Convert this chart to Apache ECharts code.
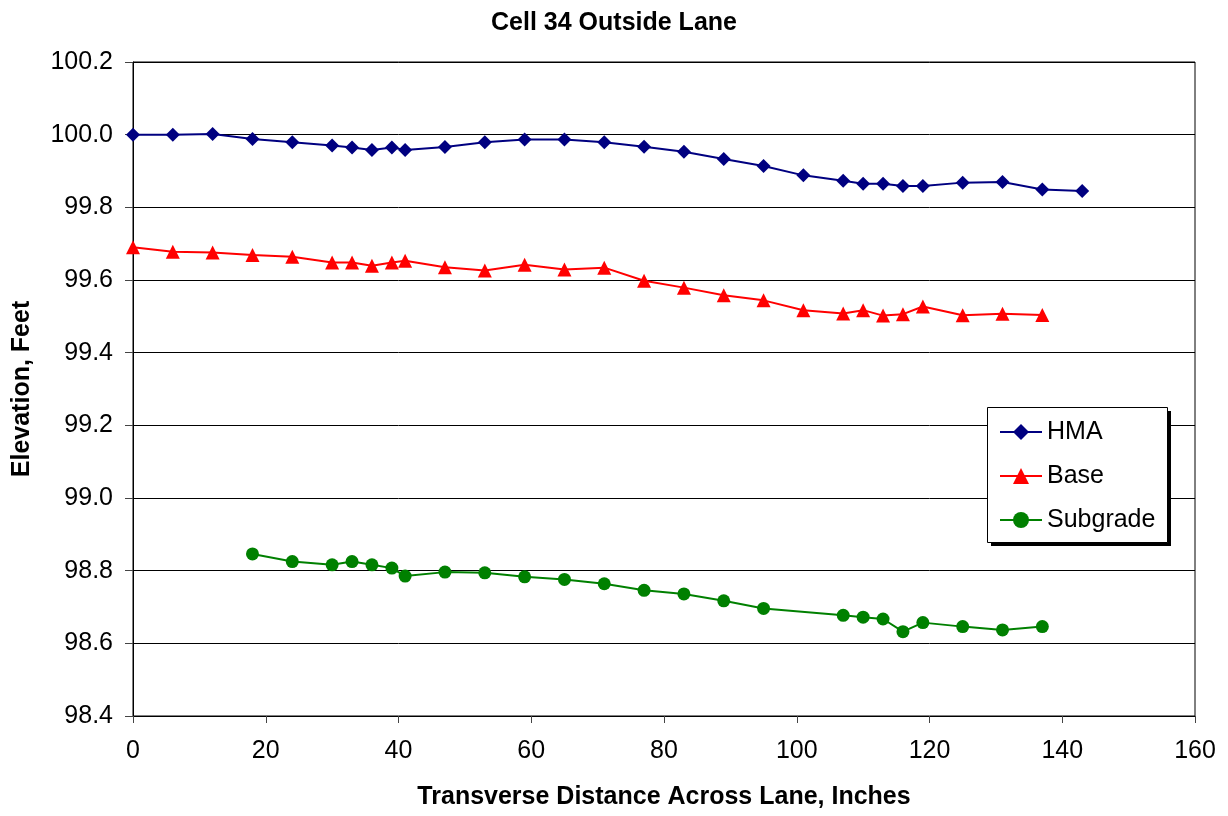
<!DOCTYPE html>
<html>
<head>
<meta charset="utf-8">
<script src="https://cdn.jsdelivr.net/npm/echarts@6/dist/echarts.min.js"></script>
<style>html,body{margin:0;padding:0;background:#fff}#c{width:1228px;height:816px}</style>
</head>
<body>
<div id="c"></div>
<script>
const hmaX = [0,6,12,18,24,30,33,36,39,41,47,53,59,65,71,77,83,89,95,101,107,110,113,116,119,125,131,137,143];
const hmaY = [100.000,100.000,100.002,99.988,99.979,99.970,99.965,99.958,99.965,99.958,99.966,99.979,99.987,99.987,99.979,99.967,99.953,99.933,99.914,99.888,99.873,99.865,99.865,99.859,99.859,99.868,99.870,99.849,99.845];
const baseX = [0,6,12,18,24,30,33,36,39,41,47,53,59,65,71,77,83,89,95,101,107,110,113,116,119,125,131,137];
const baseY = [99.690,99.678,99.676,99.669,99.664,99.648,99.648,99.639,99.648,99.653,99.635,99.626,99.642,99.629,99.634,99.598,99.579,99.558,99.544,99.517,99.508,99.517,99.502,99.506,99.527,99.503,99.507,99.504];
const subX = [18,24,30,33,36,39,41,47,53,59,65,71,77,83,89,95,107,110,113,116,119,125,131,137];
const subY = [98.846,98.825,98.816,98.825,98.816,98.807,98.785,98.796,98.794,98.783,98.776,98.764,98.746,98.736,98.717,98.696,98.677,98.672,98.667,98.632,98.657,98.646,98.637,98.646];
const seriesNames = ['HMA','Base','Subgrade'];
const titleText = 'Cell 34 Outside Lane';
const xTitle = 'Transverse Distance Across Lane, Inches';
const yTitle = 'Elevation, Feet';

const zip = (xs, ys) => xs.map((x, i) => [x, ys[i]]);
const font = 'Arial, "Liberation Sans", sans-serif';
const chart = echarts.init(document.getElementById('c'), null, {renderer: 'canvas'});
chart.setOption({
  animation: false,
  backgroundColor: '#fff',
  title: {
    text: titleText, left: 'center', top: 6,
    textStyle: {fontFamily: font, fontSize: 25, fontWeight: 'bold', color: '#000'}
  },
  graphic: [
    {type: 'rect', left: 991, top: 411, shape: {width: 180, height: 135}, style: {fill: '#000'}, z: 5},
    {type: 'rect', left: 987, top: 407, shape: {width: 180, height: 135}, style: {fill: '#fff', stroke: '#000', lineWidth: 1}, z: 6}
  ],
  grid: {left: 133, right: 33, top: 62, bottom: 100, show: true, borderColor: '#000', borderWidth: 1},
  xAxis: {
    type: 'value', min: 0, max: 160, interval: 20,
    name: xTitle, nameLocation: 'middle', nameGap: 69,
    nameTextStyle: {fontFamily: font, fontSize: 25, fontWeight: 'bold', color: '#000'},
    axisLine: {lineStyle: {color: '#000'}},
    axisTick: {show: true, inside: false, length: 7, lineStyle: {color: '#444'}},
    axisLabel: {fontFamily: font, fontSize: 25, color: '#000', margin: 23},
    splitLine: {show: false}
  },
  yAxis: {
    type: 'value', min: 98.4, max: 100.2, interval: 0.2,
    name: yTitle, nameLocation: 'middle', nameGap: 98, nameRotate: 90,
    nameTextStyle: {fontFamily: font, fontSize: 25, fontWeight: 'bold', color: '#000'},
    axisLine: {show: true, lineStyle: {color: '#000'}},
    axisTick: {show: true, inside: false, length: 8, lineStyle: {color: '#444'}},
    axisLabel: {fontFamily: font, fontSize: 25, color: '#000', margin: 20, formatter: v => v.toFixed(1)},
    splitLine: {show: true, lineStyle: {color: '#000', width: 1}}
  },
  legend: {
    orient: 'vertical', left: 999, top: 419, z: 10,
    padding: 0,
    itemWidth: 42, itemHeight: 20, itemGap: 18, itemTextGap: 7,
    textStyle: {fontFamily: font, fontSize: 25, color: '#000', lineHeight: 26},
    data: seriesNames
  },
  series: [
    {name: seriesNames[0], type: 'line', data: zip(hmaX, hmaY), symbol: 'diamond', symbolSize: 14,
      itemStyle: {color: '#000080'}, lineStyle: {color: '#000080', width: 2}},
    {name: seriesNames[1], type: 'line', data: zip(baseX, baseY), symbol: 'triangle', symbolSize: 14,
      itemStyle: {color: '#FF0000'}, lineStyle: {color: '#FF0000', width: 2}},
    {name: seriesNames[2], type: 'line', data: zip(subX, subY), symbol: 'circle', symbolSize: 13,
      itemStyle: {color: '#008000'}, lineStyle: {color: '#008000', width: 2}}
  ]
});
</script>
</body>
</html>
